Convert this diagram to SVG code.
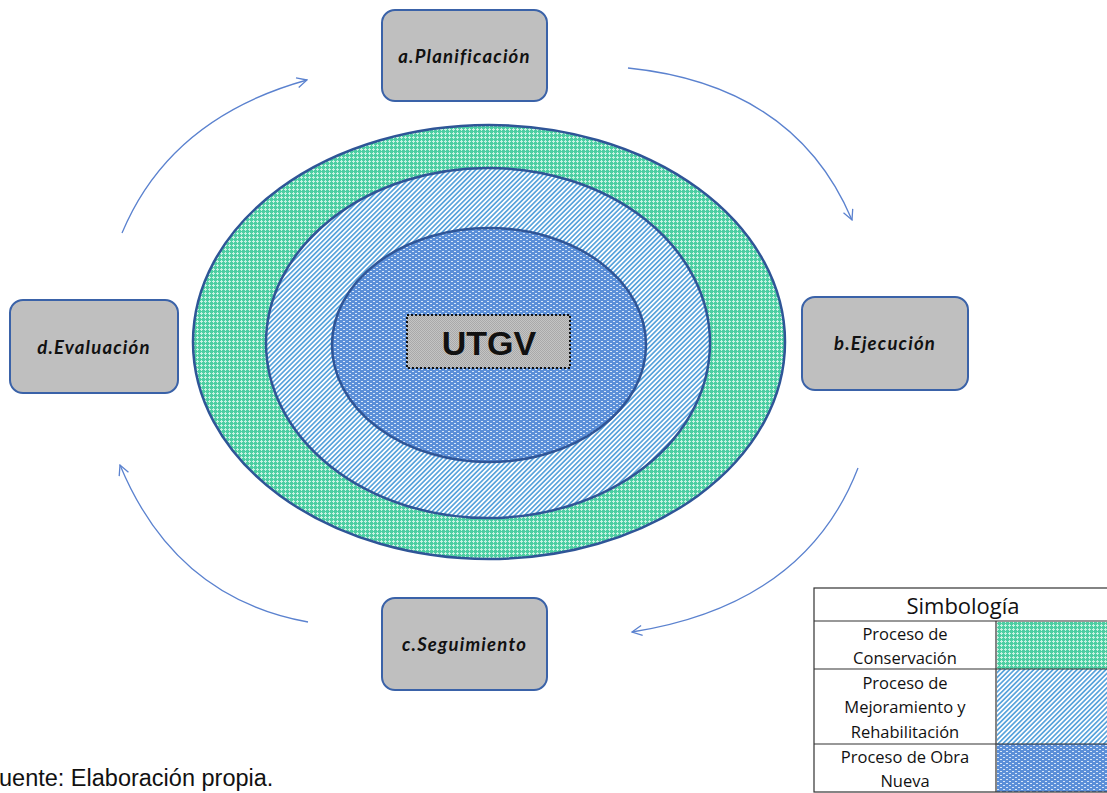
<svg xmlns="http://www.w3.org/2000/svg" width="1107" height="793" viewBox="0 0 1107 793">
  <defs>
    <!-- conservation: teal with light dot grid -->
    <pattern id="patGreen" width="4" height="4" patternUnits="userSpaceOnUse">
      <rect width="4" height="4" fill="#4ccea2"/>
      <rect x="1" y="0" width="1" height="3" fill="#c8f2e2"/>
      <rect x="0" y="1" width="3" height="1" fill="#c8f2e2"/>
    </pattern>
    <!-- improvement / rehabilitation: diagonal hatch -->
    <pattern id="patHatch" width="3.4" height="3.4" patternUnits="userSpaceOnUse" patternTransform="rotate(45)">
      <rect width="3.4" height="3.4" fill="#ffffff"/>
      <rect width="1.7" height="3.4" fill="#5ba4dc"/>
    </pattern>
    <!-- new works: blue with small white dashes -->
    <pattern id="patBlue" width="6" height="4" patternUnits="userSpaceOnUse">
      <rect width="6" height="4" fill="#5b8fd8"/>
      <rect x="1" y="1" width="2" height="1" fill="#d7e6f8"/>
      <rect x="4" y="3" width="2" height="1" fill="#d7e6f8"/>
    </pattern>
    <pattern id="patGray" width="2" height="2" patternUnits="userSpaceOnUse">
      <rect width="2" height="2" fill="#c4c4c4"/>
      <rect width="1" height="1" fill="#a9a9a9"/>
      <rect x="1" y="1" width="1" height="1" fill="#a9a9a9"/>
    </pattern>
    <marker id="arrowOpen" viewBox="0 0 12 12" refX="11" refY="6" markerWidth="12" markerHeight="12" markerUnits="userSpaceOnUse" orient="auto">
      <path d="M1,1 L11,6 L1,11" fill="none" stroke="#5b82cf" stroke-width="1.3"/>
    </marker>
    <style>
      .ring { stroke: #2f5597; stroke-width: 2.5; }
      .step rect { fill: #bfbfbf; stroke: #3a62a8; stroke-width: 2; }
      .step text { font-family: Lato, "Open Sans", sans-serif; font-weight: bold; font-style: italic; font-size: 18.5px; letter-spacing: 1.2px; fill: #111; text-anchor: middle; dominant-baseline: central; }
      .flow { fill: none; stroke: #5b82cf; stroke-width: 1.3; marker-end: url(#arrowOpen); }
      .leg { font-family: "Open Sans", Lato, sans-serif; font-size: 16.5px; fill: #111; text-anchor: middle; }
      .leg-title { font-family: "Open Sans", Lato, sans-serif; font-size: 22px; fill: #111; text-anchor: middle; }
      .cell { fill: none; stroke: #333; stroke-width: 1.2; }
    </style>
  </defs>

  <rect width="1107" height="793" fill="#ffffff"/>

  <!-- concentric process rings -->
  <g id="rings">
    <ellipse class="ring" cx="489" cy="342" rx="296" ry="217" fill="url(#patGreen)"/>
    <ellipse class="ring" cx="488" cy="343" rx="222" ry="175" fill="url(#patHatch)"/>
    <ellipse class="ring" cx="489" cy="345" rx="157" ry="117" fill="url(#patBlue)"/>
  </g>

  <g id="utgv">
    <rect x="407" y="315" width="163" height="53" fill="url(#patGray)" stroke="#111" stroke-width="2" stroke-dasharray="2 2"/>
    <text x="489" y="343" font-family="'Liberation Sans', Arial, sans-serif" font-weight="bold" font-size="34" fill="#111" text-anchor="middle" dominant-baseline="central">UTGV</text>
  </g>

  <g id="planificacion" class="step">
    <rect x="382" y="10" width="165" height="91" rx="13"/>
    <text x="464.5" y="56">a.Planificación</text>
  </g>
  <g id="ejecucion" class="step">
    <rect x="802" y="297" width="166" height="93" rx="13"/>
    <text x="885" y="343">b.Ejecución</text>
  </g>
  <g id="seguimiento" class="step">
    <rect x="382" y="598" width="165" height="92" rx="13"/>
    <text x="464.5" y="644">c.Seguimiento</text>
  </g>
  <g id="evaluacion" class="step">
    <rect x="10" y="300" width="168" height="93" rx="13"/>
    <text x="94" y="347">d.Evaluación</text>
  </g>

  <!-- cycle connectors -->
  <g id="connectors">
    <path class="flow" d="M122,233 Q170,118 307,80"/>
    <path class="flow" d="M628,68 Q795,85 852,220"/>
    <path class="flow" d="M858,468 Q805,605 632,632"/>
    <path class="flow" d="M308,622 Q175,598 120,465"/>
  </g>

  <!-- legend table -->
  <g id="legend">
    <rect x="997" y="622" width="112" height="47" fill="url(#patGreen)"/>
    <rect x="997" y="669" width="112" height="75" fill="url(#patHatch)"/>
    <rect x="997" y="744" width="112" height="48" fill="url(#patBlue)"/>
    <rect class="cell" x="814" y="588" width="300" height="204"/>
    <line class="cell" x1="814" y1="621" x2="1107" y2="621"/>
    <line class="cell" x1="814" y1="669" x2="1107" y2="669"/>
    <line class="cell" x1="814" y1="744" x2="1107" y2="744"/>
    <line class="cell" x1="996" y1="621" x2="996" y2="792"/>
    <text class="leg-title" x="963" y="614">Simbología</text>
    <text class="leg" x="905" y="640">Proceso de</text>
    <text class="leg" x="905" y="664">Conservación</text>
    <text class="leg" x="905" y="689">Proceso de</text>
    <text class="leg" x="905" y="713">Mejoramiento y</text>
    <text class="leg" x="905" y="738">Rehabilitación</text>
    <text class="leg" x="905" y="763">Proceso de Obra</text>
    <text class="leg" x="905" y="787">Nueva</text>
  </g>

  <text x="-1" y="786" font-family="'Liberation Sans', Arial, sans-serif" font-size="23.5" fill="#111">uente: Elaboración propia.</text>
</svg>
